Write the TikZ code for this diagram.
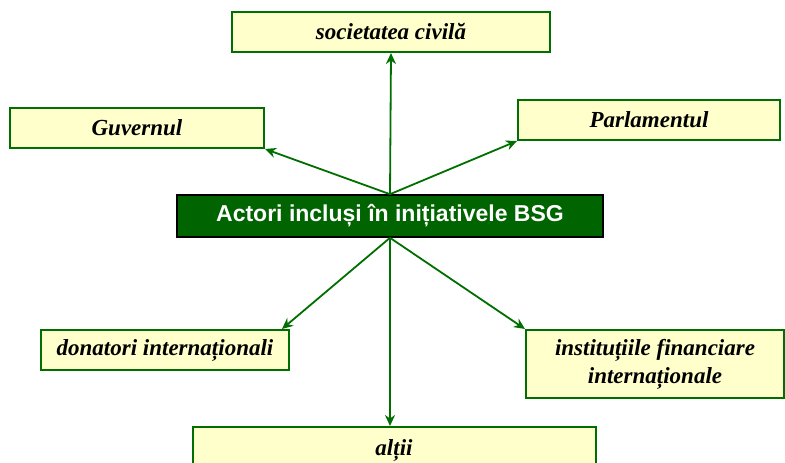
\documentclass[tikz,border=0pt]{standalone}
\usepackage{fontspec}
\setmainfont{Liberation Serif}
\setsansfont{Liberation Sans}
\usepackage{tikz}
\usetikzlibrary{arrows.meta}
\definecolor{boxgreen}{RGB}{0,110,0}
\definecolor{darkgreen}{RGB}{0,100,0}
\definecolor{paleyellow}{RGB}{255,255,204}

\begin{document}
\begin{tikzpicture}[x=1pt, y=-1pt,
    actor/.style = {draw=boxgreen, fill=paleyellow, line width=2pt, inner sep=2pt,
                    font=\fontsize{23}{28}\selectfont\bfseries\itshape, align=center},
    centre/.style = {draw=black, fill=darkgreen, line width=1.6pt, text=white,
                     font=\fontsize{23}{25}\selectfont\sffamily\bfseries},
    link/.style = {draw=boxgreen, line width=1.8pt, -{Stealth[length=11pt, width=10pt]}}]
        \useasboundingbox (0,0) rectangle (785,463);
        \node[centre, minimum width=426pt, minimum height=42pt] (main) at (390,216) {Actori incluși în inițiativele BSG};
        \node[actor, minimum width=318pt, minimum height=40pt] (soc) at (391,32) {societatea civilă};
        \node[actor, minimum width=254pt, minimum height=40pt] (guv) at (137,128) {Guvernul};
        \node[actor, minimum width=262pt, minimum height=40pt] (parl) at (649,120) {Parlamentul};
        \node[actor, minimum width=248pt, minimum height=40pt] (don) at (165,350) {donatori internaționali};
        \node[actor, minimum width=258pt, minimum height=68pt] (ifi) at (655,364) {instituțiile financiare\\internaționale};
        \node[actor, minimum width=403pt, minimum height=48pt, anchor=north] (alti) at (394,426) {\raisebox{6pt}{alții}};
        \draw[link] (main.south) -- (main.south |- alti.north);
        \draw[link] (main.north) -- (soc.south);
        \draw[link] (main.north) -- (guv.south east);
        \draw[link] (main.north) -- (parl.south west);
        \draw[link] (main.south) -- ([xshift=-8pt]don.north east);
        \draw[link] (main.south) -- (ifi.north west);
      \end{tikzpicture}
\end{document}
